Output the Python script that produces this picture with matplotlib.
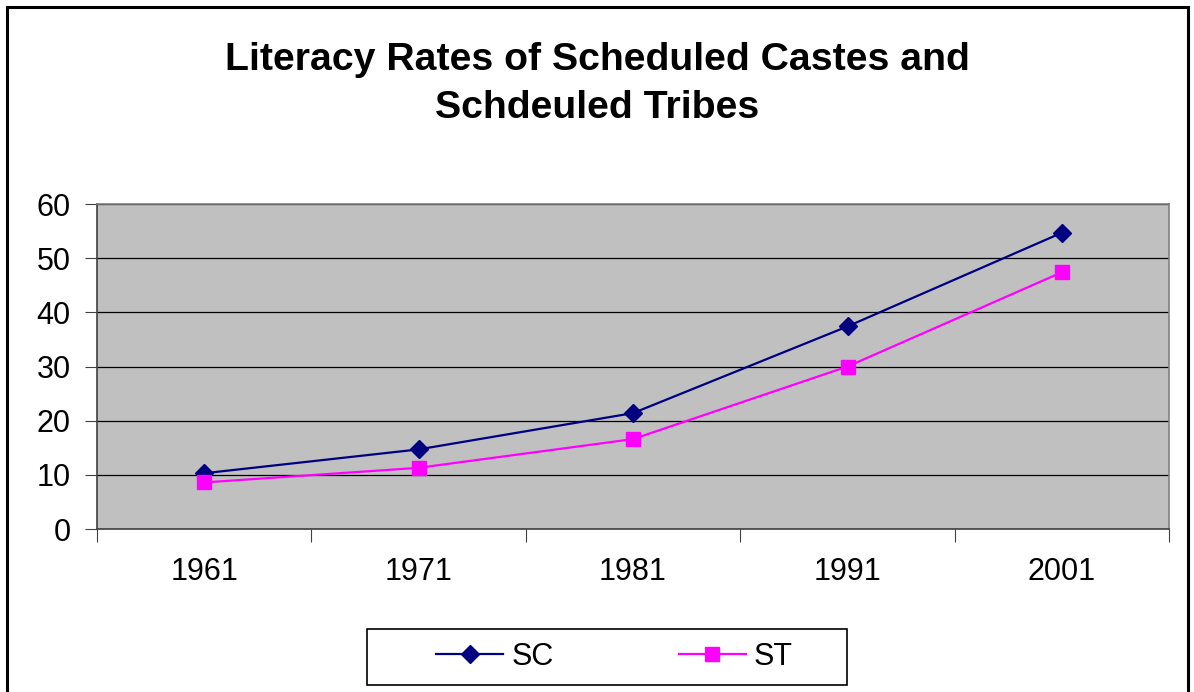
import matplotlib.pyplot as plt
from matplotlib.patches import Rectangle

years = ['1961', '1971', '1981', '1991', '2001']
sc = [10.3, 14.7, 21.4, 37.4, 54.7]
st = [8.6, 11.3, 16.6, 30.0, 47.4]

plt.rcParams['font.family'] = ['Liberation Sans', 'DejaVu Sans']

fig = plt.figure(figsize=(11.94, 6.92), dpi=100)
fig.patches.append(Rectangle((0.006, -0.01), 0.989, 1.0, transform=fig.transFigure,
                             fill=False, edgecolor='black', linewidth=2.2))

ax = fig.add_axes([0.0812, 0.2355, 0.898, 0.4697])
ax.set_facecolor('#C0C0C0')
x = list(range(len(years)))
ax.plot(x, sc, color='#000080', marker='D', markersize=9, linewidth=1.6, label='SC', zorder=3)
ax.plot(x, st, color='#FF00FF', marker='s', markersize=10, linewidth=1.6, label='ST', zorder=3)

ax.set_xlim(-0.5, len(years) - 0.5)
ax.set_ylim(0, 60)
ax.set_yticks(range(0, 61, 10))
ax.yaxis.grid(True, color='black', linewidth=0.9)
ax.set_axisbelow(True)

ax.set_xticks([i - 0.5 for i in range(len(years) + 1)])
ax.set_xticklabels([])
ax.set_xticks(x, minor=True)
ax.set_xticklabels(years, minor=True)
ax.tick_params(axis='x', which='minor', length=0, pad=20, labelsize=22)
ax.tick_params(axis='x', which='major', length=9, color='#404040')
ax.tick_params(axis='y', length=9, labelsize=22, pad=10, color='#404040')

for s in ax.spines.values():
    s.set_color('#808080')
    s.set_linewidth(1.2)
ax.spines['left'].set_color('#404040')
ax.spines['bottom'].set_color('#404040')

fig.text(0.5, 0.878, 'Literacy Rates of Scheduled Castes and\nSchdeuled Tribes',
         ha='center', va='center', fontsize=28.3, fontweight='bold', linespacing=1.43)

# legend box drawn separately, entries centred inside it
fig.patches.append(Rectangle((367 / 1194, 7 / 692), 480 / 1194, 56 / 692,
                             transform=fig.transFigure, fill=False,
                             edgecolor='black', linewidth=1.2))
leg = fig.legend(loc='center', bbox_to_anchor=(614.5 / 1194, 1 - 657 / 692),
                 ncol=2, fontsize=22, frameon=False, handlelength=2.2,
                 handletextpad=0.26, columnspacing=4.1, borderaxespad=0, borderpad=0)

fig.savefig('out.png', dpi=100)
